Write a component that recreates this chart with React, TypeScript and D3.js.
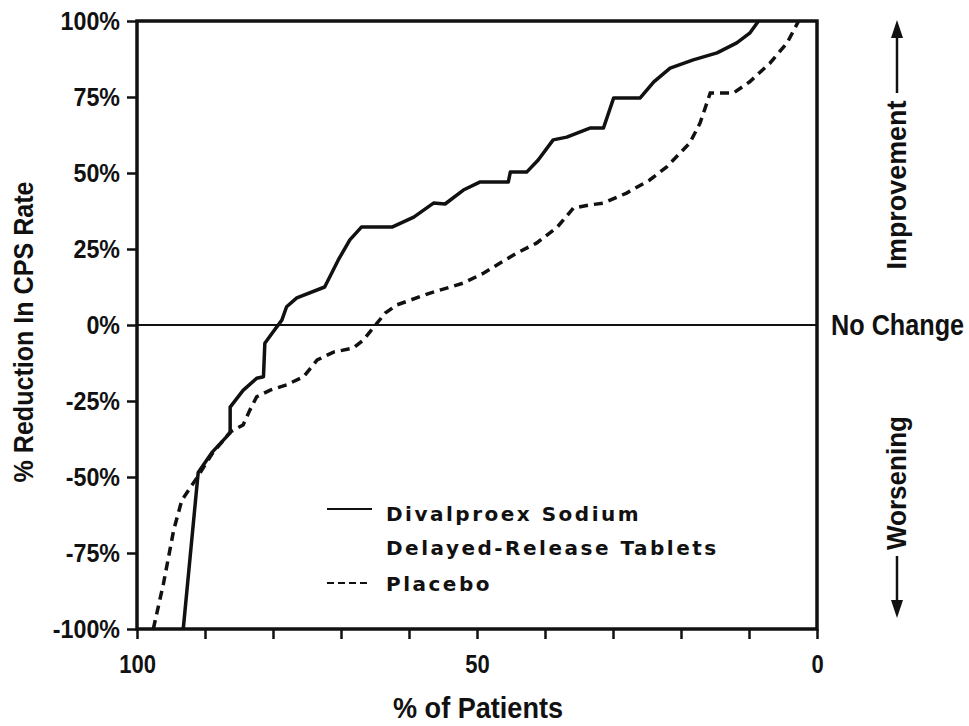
import React, { useEffect, useRef } from 'react';
import * as d3 from 'd3';

// % of patients (x, reversed axis) and % reduction in CPS rate (y)
const divalproexX = [93.2, 91.0, 89.0, 86.3, 86.3, 84.4, 82.4, 81.4, 81.2, 80.0, 78.7, 78.0, 76.5, 72.4, 70.4, 68.7, 67.0, 62.5, 59.3, 56.4, 54.7, 52.0, 49.6, 45.4, 45.1, 42.7, 41.0, 38.8, 36.8, 33.4, 31.4, 29.9, 26.0, 24.0, 21.6, 18.2, 14.7, 11.8, 9.9, 8.6];
const divalproexY = [-100, -48.5, -42, -35.5, -27, -21.5, -17.5, -17, -6, -2.3, 1.6, 6, 8.9, 12.5, 21.4, 28, 32.2, 32.2, 35.5, 40.1, 39.8, 44.4, 47, 47, 50.3, 50.3, 54.3, 60.9, 61.8, 64.8, 64.8, 74.7, 74.7, 80, 84.5, 87.2, 89.5, 92.8, 96, 100];

const placeboX = [97.6, 96.1, 94.6, 93.4, 91.2, 89.0, 86.3, 84.4, 83.4, 82.4, 80.4, 78.0, 75.5, 73.5, 71.1, 68.2, 66.7, 64.7, 63.5, 61.8, 56.9, 52.0, 49.0, 46.6, 44.1, 41.2, 38.2, 35.8, 33.4, 31.4, 28.0, 24.6, 22.1, 18.7, 17.2, 15.7, 12.3, 9.9, 6.9, 4.4, 2.7];
const placeboY = [-100, -85, -67.4, -57.6, -50.3, -42.5, -35.2, -32.9, -28, -23.6, -21.4, -19.7, -17, -11.5, -8.9, -7.6, -4.9, 0.6, 3.9, 6.6, 10.5, 13.8, 17.1, 20.4, 23.7, 27, 32.2, 38.5, 39.5, 40.1, 43.4, 47.7, 52, 59.9, 66.4, 76.3, 76.3, 80, 86.2, 92.8, 100];

const yTicks = [-100, -75, -50, -25, 0, 25, 50, 75, 100];
const xTicks = [0, 10, 20, 30, 40, 50, 60, 70, 80, 90, 100];
const xLabelled = [0, 50, 100];

const legendLines = ['Divalproex Sodium', 'Delayed-Release Tablets'];
const placeboLabel = 'Placebo';

const headFont = '"Liberation Sans", Arial, sans-serif';
const legendFont = '"DejaVu Sans", Verdana, sans-serif';

// squeeze axis labels a little, the original uses a condensed face
function condense(sel: d3.Selection<any, any, any, any>, factor: number) {
  sel.each(function () {
    const el = this as SVGTextElement;
    const w = el.getComputedTextLength();
    if (w > 0) {
      d3.select(el).attr('textLength', w * factor).attr('lengthAdjust', 'spacingAndGlyphs');
    }
  });
}

export default function App() {
  const width = 969;
  const height = 726;
  const left = 137;
  const right = 817;
  const top = 21;
  const bottom = 629;

  const svgRef = useRef<SVGSVGElement>(null);

  const xScale = d3.scaleLinear().domain([100, 0]).range([left, right]);
  const yScale = d3.scaleLinear().domain([-100, 100]).range([bottom, top]);

  useEffect(() => {
    const svg = d3.select(svgRef.current);

    const yAxis = d3.axisLeft(yScale)
      .tickValues(yTicks)
      .tickSize(10)
      .tickPadding(7)
      .tickFormat((d) => `${d}%`);

    const yg = svg.select<SVGGElement>('.y-axis')
      .attr('transform', `translate(${left},0)`)
      .call(yAxis);
    yg.select('.domain').remove();
    yg.selectAll('line').attr('stroke', '#111').attr('stroke-width', 2.5);
    const yText = yg.selectAll('text')
      .attr('fill', '#111')
      .style('font-family', headFont)
      .style('font-weight', 'bold')
      .style('font-size', '25px');
    condense(yText, 0.93);

    const xAxis = d3.axisBottom(xScale)
      .tickValues(xTicks)
      .tickSize(10)
      .tickPadding(16)
      .tickFormat((d) => (xLabelled.includes(d as number) ? `${d}` : ''));

    const xg = svg.select<SVGGElement>('.x-axis')
      .attr('transform', `translate(0,${bottom})`)
      .call(xAxis);
    xg.select('.domain').remove();
    xg.selectAll('line').attr('stroke', '#111').attr('stroke-width', 2.5);
    const xText = xg.selectAll('text')
      .attr('fill', '#111')
      .style('font-family', headFont)
      .style('font-weight', 'bold')
      .style('font-size', '25px');
    condense(xText, 0.88);

    const line = d3.line<number>()
      .x((d) => xScale(d))
      .curve(d3.curveLinear);

    svg.select('.lines').selectAll('.divalproex')
      .data([divalproexX])
      .join('path')
      .attr('class', 'divalproex')
      .attr('d', line.y((d, i) => yScale(divalproexY[i])))
      .attr('fill', 'none')
      .attr('stroke', '#111')
      .attr('stroke-width', 3.5)
      .attr('stroke-linejoin', 'round');

    svg.select('.lines').selectAll('.placebo')
      .data([placeboX])
      .join('path')
      .attr('class', 'placebo')
      .attr('d', line.y((d, i) => yScale(placeboY[i])))
      .attr('fill', 'none')
      .attr('stroke', '#111')
      .attr('stroke-width', 3.5)
      .attr('stroke-dasharray', '9,6');
  }, []);

  const head = { fontFamily: headFont, fontWeight: 'bold' as const };

  return (
    <div style={{ position: 'absolute', left: 0, top: 0, background: '#fff' }}>
      <svg width={width} height={height} ref={svgRef} style={{ display: 'block' }}>
        <rect width={width} height={height} fill="#fff" />
        <line x1={left} x2={right} y1={yScale(0)} y2={yScale(0)} stroke="#111" strokeWidth={2} />
        <g className="lines" />
        <rect x={left} y={top} width={right - left} height={bottom - top} fill="none" stroke="#111" strokeWidth={3.5} />
        <g className="y-axis" />
        <g className="x-axis" />

        <text transform="translate(33,332) rotate(-90)" textAnchor="middle" fill="#111"
          textLength={301} lengthAdjust="spacingAndGlyphs" style={{ ...head, fontSize: 27 }}>
          % Reduction In CPS Rate
        </text>
        <text x={478} y={718} textAnchor="middle" fill="#111"
          textLength={170} lengthAdjust="spacingAndGlyphs" style={{ ...head, fontSize: 30 }}>
          % of Patients
        </text>

        <text transform="translate(831,335) scale(0.87,1)" fill="#111" style={{ ...head, fontSize: 29 }}>
          No Change
        </text>
        <text transform="translate(906,185) rotate(-90)" textAnchor="middle" fill="#111"
          textLength={169} lengthAdjust="spacingAndGlyphs" style={{ ...head, fontSize: 28 }}>
          Improvement
        </text>
        <line x1={897} x2={897} y1={93} y2={36} stroke="#111" strokeWidth={2.5} />
        <polygon points="897,20 891,38 903,38" fill="#111" />
        <text transform="translate(906,483) rotate(-90)" textAnchor="middle" fill="#111"
          textLength={134} lengthAdjust="spacingAndGlyphs" style={{ ...head, fontSize: 28 }}>
          Worsening
        </text>
        <line x1={897} x2={897} y1={556} y2={602} stroke="#111" strokeWidth={2.5} />
        <polygon points="897,618 891,600 903,600" fill="#111" />

        <line x1={327} x2={372} y1={509} y2={509} stroke="#111" strokeWidth={2} />
        {legendLines.map((t, i) => (
          <text key={t} x={386} y={521 + i * 34} fill="#111"
            style={{ fontFamily: legendFont, fontWeight: 'bold', fontSize: 20, letterSpacing: 2.5 }}>
            {t}
          </text>
        ))}
        <line x1={327} x2={370} y1={583} y2={583} stroke="#111" strokeWidth={2} strokeDasharray="7,4" />
        <text x={386} y={591} fill="#111"
          style={{ fontFamily: legendFont, fontWeight: 'bold', fontSize: 20, letterSpacing: 2.5 }}>
          {placeboLabel}
        </text>
      </svg>
    </div>
  );
}
